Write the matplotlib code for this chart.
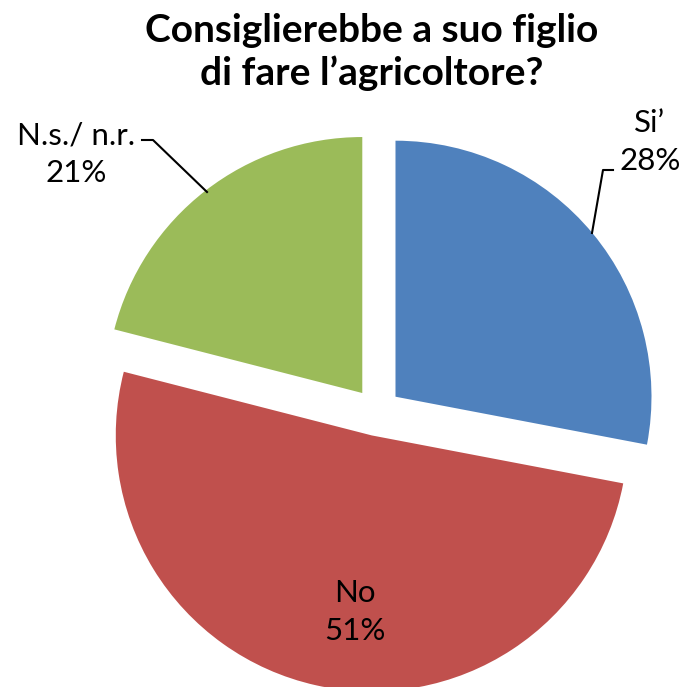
import matplotlib
matplotlib.use('Agg')
import matplotlib.pyplot as plt

# data
labels = ["Si’", "No", "N.s./ n.r."]
values = [28, 51, 21]
colors = ['#4F81BD', '#C0504D', '#9BBB59']
title = "Consiglierebbe a suo figlio\ndi fare l’agricoltore?"

plt.rcParams['font.family'] = ['Lato', 'DejaVu Sans']

W, H = 685, 687
fig = plt.figure(figsize=(W / 100, H / 100), dpi=100)
ax = fig.add_axes([0, 0, 1, 1])

# pixel-like coordinates (y up)
cx, cy, r = 377, H - 412, 256
ax.pie(values, colors=colors, startangle=90, counterclock=False,
       center=(cx, cy), radius=r, explode=[24, 24, 24],
       wedgeprops=dict(linewidth=0))
ax.set_xlim(0, W)
ax.set_ylim(0, H)
ax.set_aspect('equal')
ax.axis('off')

pct = [f"{v}%" for v in values]
lab_fs = 22.5

# Si'
ax.text(650, H - 142, labels[0] + "\n" + pct[0], ha='center', va='center',
        fontsize=lab_fs, linespacing=1.4)
ax.plot([592, 603, 613], [H - 233, H - 170, H - 170], color='black', lw=1.5)
# N.s./ n.r.
ax.text(76, H - 154, labels[2] + "\n" + pct[2], ha='center', va='center',
        fontsize=lab_fs, linespacing=1.4)
ax.plot([142, 153, 207], [H - 140, H - 140, H - 192], color='black', lw=1.5)
# No
ax.text(355, H - 612, labels[1] + "\n" + pct[1], ha='center', va='center',
        fontsize=lab_fs, linespacing=1.45)

ax.text(372, H - 52, title, ha='center', va='center', fontsize=28,
        fontweight='bold', linespacing=1.25)

fig.savefig('out.png', dpi=100, facecolor='white')
